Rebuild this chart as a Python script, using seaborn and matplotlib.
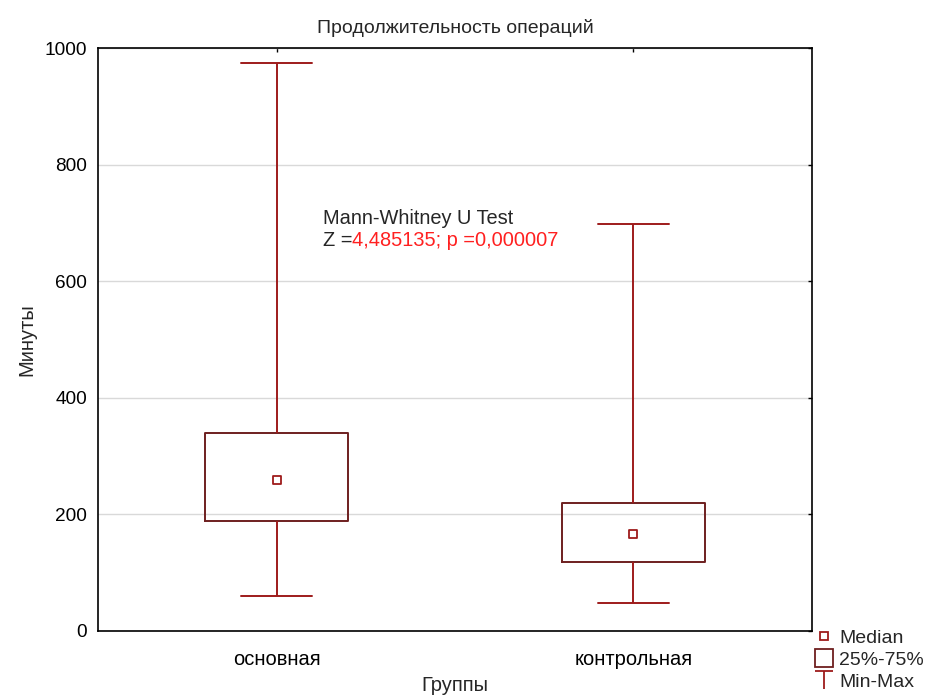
import matplotlib
matplotlib.use("Agg")
import matplotlib.pyplot as plt
from matplotlib.lines import Line2D
from matplotlib.path import Path
import numpy as np
import pandas as pd
import seaborn as sns

# summary stats (min, q1, median, q3, max)
groups = ["основная", "контрольная"]
mins = [60, 48]
q1s = [189, 118]
medians = [259, 166]
q3s = [340, 220]
maxs = [975, 698]

# five points per group -> with whis=(0, 100) the box shows exactly these stats
rows = []
for g, a, b, c, d, e in zip(groups, mins, q1s, medians, q3s, maxs):
    for v in (a, b, c, d, e):
        rows.append({"Группы": g, "Минуты": v})
df = pd.DataFrame(rows)

box_col = "#6e1f1f"
whisk_col = "#9e1b1b"

sns.set_style("white")
plt.rcParams["font.family"] = ["Liberation Sans", "DejaVu Sans"]

fig = plt.figure(figsize=(9.3, 6.97), dpi=100)
ax = fig.add_axes([0.1054, 0.0947, 0.7677, 0.8364])

sns.boxplot(data=df, x="Группы", y="Минуты", whis=(0, 100), width=0.4,
            fill=False, linecolor=box_col, linewidth=1.4, showfliers=False,
            boxprops={"color": box_col, "linewidth": 1.4},
            whiskerprops={"color": whisk_col, "linewidth": 1.4},
            capprops={"color": whisk_col, "linewidth": 1.4},
            medianprops={"visible": False}, ax=ax)
sns.scatterplot(x=groups, y=medians, marker="s", s=32, color="white",
                edgecolor=whisk_col, linewidth=1.3, zorder=5, ax=ax)

ax.set_xlim(-0.5, 1.5)
ax.set_ylim(0, 1000)
ax.set_yticks([0, 200, 400, 600, 800, 1000])
ax.yaxis.grid(True, color="#d9d9d9", linewidth=1)
ax.xaxis.grid(False)
ax.set_axisbelow(True)
for s in ax.spines.values():
    s.set_color("black")
    s.set_linewidth(1.2)
ax.tick_params(direction="in", length=3, width=1, top=True, right=True,
               colors="black")
ax.tick_params(axis="y", labelsize=13.7, pad=8)
ax.tick_params(axis="x", labelsize=14.5, pad=14)
ax.set_title("Продолжительность операций", fontsize=14, pad=11)
ax.set_ylabel("Минуты", fontsize=14.5, labelpad=6)
ax.set_xlabel("Группы", fontsize=14.5, labelpad=5)

t1 = ax.text(0.13, 707, "Mann-Whitney U Test", fontsize=14.4, va="center")
t2 = ax.text(0.13, 669, "Z =", fontsize=14.4, va="center")
ax.annotate("4,485135; p =0,000007", xy=(1, 0), xycoords=t2, va="bottom",
            ha="left", fontsize=14.4, color="#ff2020")

# legend symbols
cap_path = Path([(-0.5, 0.5), (0.5, 0.5), (0, 0.5), (0, -0.5)],
                [Path.MOVETO, Path.LINETO, Path.MOVETO, Path.LINETO])
handles = [
    Line2D([], [], ls="none", marker="s", markersize=6, mfc="white",
           mec=whisk_col, mew=1.3),
    Line2D([], [], ls="none", marker="s", markersize=13, mfc="white",
           mec=box_col, mew=1.3),
    Line2D([], [], ls="none", marker=cap_path, markersize=13,
           mec=whisk_col, mew=1.3),
]
fig.legend(handles, ["Median", "25%-75%", "Min-Max"], loc="upper left",
           bbox_to_anchor=(0.878, 0.097), frameon=False, fontsize=14,
           handlelength=0.8, handletextpad=0.35, labelspacing=0.22,
           borderaxespad=0, borderpad=0)

fig.savefig("out.png", dpi=100)
